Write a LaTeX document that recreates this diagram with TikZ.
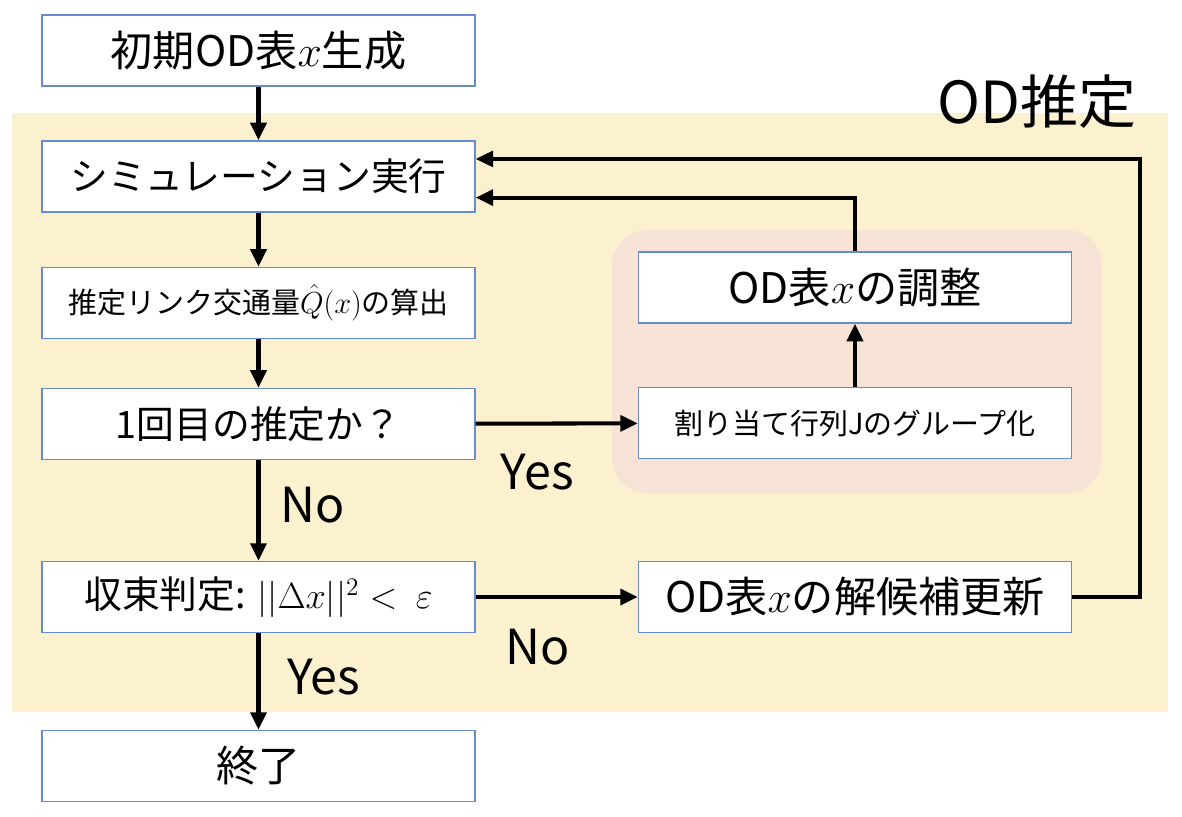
\documentclass[tikz,border=0pt]{standalone}
\usepackage{fontspec}
\setmainfont{Noto Sans CJK JP}
\usetikzlibrary{arrows.meta}
\definecolor{boxline}{RGB}{104,138,206}
\definecolor{odback}{RGB}{252,241,206}
\definecolor{grpback}{RGB}{246,227,214}

\begin{document}
\begin{tikzpicture}[x=0.02cm,y=-0.02cm,
  box/.style={draw=boxline,line width=0.8pt,fill=white,minimum width=8.66cm,minimum height=1.42cm,inner sep=0pt},
  big/.style={font=\fontsize{21.5}{25}\selectfont},
  bigger/.style={font=\fontsize{24}{28}\selectfont},
  small/.style={font=\fontsize{16.5}{20}\selectfont},
  lab/.style={font=\fontsize{27.5}{32}\selectfont},
  flow/.style={line width=2.3pt,-{Triangle[length=10pt,width=9pt]}}]
\useasboundingbox (0,0) rectangle (1182,816);
\fill[odback] (12,113) rectangle (1168,712);
\fill[grpback,rounded corners=20pt] (612,230) rectangle (1102,493);
\node[font=\fontsize{33}{38}\selectfont] (T) at (1037,102) {OD推定};
\node[box,bigger] (A) at (258.5,50.5) {初期OD表$x$生成};
\node[box,big] (B) at (258.5,176.5) {シミュレーション実行};
\node[box,small] (C) at (258.5,303) {推定リンク交通量$\hat{Q}(x)$の算出};
\node[box,big] (D) at (258.5,424) {1回目の推定か？};
\node[box,big] (E) at (258.5,597) {収束判定: $||\Delta x||^2 <\ \varepsilon$};
\node[box,bigger] (F) at (258.5,766) {終了};
\node[box,bigger] (G) at (855,287.5) {OD表$x$の調整};
\node[box,small] (H) at (855,423) {割り当て行列Jのグループ化};
\node[box,bigger] (I) at (855,597) {OD表$x$の解候補更新};
\draw[flow] (A) -- (B);
\draw[flow] (B) -- (C);
\draw[flow] (C) -- (D);
\draw[flow] (D) -- node[lab,right=8pt,pos=0.45] {No} (E);
\draw[flow] (D) -- node[lab,below=13pt,pos=0.38] {Yes} (H);
\draw[flow] (E) -- node[lab,below=14pt,pos=0.38] {No} (I);
\draw[flow] (E) -- node[lab,right=12pt,pos=0.45] {Yes} (F);
\draw[flow] (H) -- (G);
\draw[flow] (G) |- ([yshift=-12pt]B.east);
\draw[flow] (I.east) -- ++(68,0) |- ([yshift=10pt]B.east);
\end{tikzpicture}
\end{document}
